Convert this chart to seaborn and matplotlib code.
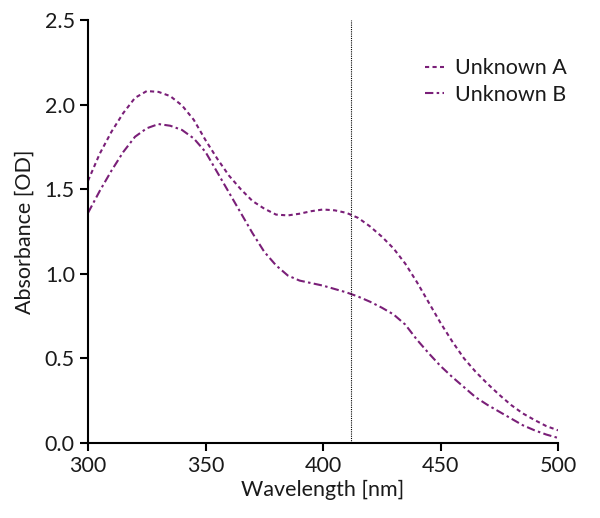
import pandas as pd
import matplotlib
matplotlib.use('Agg')
import matplotlib.pyplot as plt
import seaborn as sns

# absorbance spectra (5 nm steps)
wavelength = list(range(300, 505, 5))
unknown_a = [1.55, 1.71, 1.84, 1.95, 2.04, 2.08, 2.075, 2.05, 1.995, 1.91, 1.79,
             1.68, 1.58, 1.50, 1.43, 1.385, 1.35, 1.345, 1.355, 1.37, 1.38,
             1.375, 1.36, 1.33, 1.28, 1.22, 1.15, 1.06, 0.95, 0.83, 0.71,
             0.60, 0.50, 0.42, 0.35, 0.285, 0.225, 0.175, 0.136, 0.10, 0.075]
unknown_b = [1.36, 1.49, 1.61, 1.72, 1.81, 1.86, 1.885, 1.875, 1.85, 1.80, 1.72,
             1.60, 1.48, 1.36, 1.24, 1.13, 1.05, 0.99, 0.96, 0.945, 0.93,
             0.91, 0.89, 0.865, 0.835, 0.80, 0.76, 0.70, 0.61, 0.53, 0.455,
             0.39, 0.33, 0.27, 0.225, 0.185, 0.145, 0.105, 0.075, 0.05, 0.03]
marker_wl = 412

sns.set_style('ticks')
plt.rcParams['font.family'] = ['Lato', 'DejaVu Sans']

df = pd.DataFrame({'Wavelength': wavelength, 'Unknown A': unknown_a, 'Unknown B': unknown_b})
long = df.melt(id_vars='Wavelength', var_name='Sample', value_name='Absorbance')

purple = '#7a1f78'
txt = '#1a1a1a'
fig = plt.figure(figsize=(6, 5.18), dpi=100)
ax = fig.add_axes([0.1467, 0.1448, 0.7833, 0.8166])

sns.lineplot(data=long, x='Wavelength', y='Absorbance', hue='Sample',
             palette=[purple, purple], ax=ax, legend=False, lw=1.5)
ax.lines[0].set_dashes([2, 1.6])
ax.lines[1].set_dashes([4, 1.6, 1.2, 1.6])
ax.axvline(marker_wl, color='black', lw=0.8, ls=(0, (1, 1)))

ax.legend(ax.lines[:2], ['Unknown A', 'Unknown B'], loc='upper right', frameon=False,
          fontsize=15.5, handlelength=0.9, handletextpad=0.5, labelspacing=0.3,
          bbox_to_anchor=(1.06, 0.955), labelcolor=txt)

ax.set_xlim(300, 500)
ax.set_ylim(0, 2.5)
ax.set_xticks([300, 350, 400, 450, 500])
ax.set_yticks([0.0, 0.5, 1.0, 1.5, 2.0, 2.5])
ax.set_yticklabels(['0.0', '0.5', '1.0', '1.5', '2.0', '2.5'])
ax.tick_params(labelsize=15.5, width=1.5, length=6, color='black', labelcolor=txt)
for s in ['left', 'bottom']:
    ax.spines[s].set_linewidth(1.5)
    ax.spines[s].set_color('black')
sns.despine(ax=ax)
ax.set_xlabel('Wavelength [nm]', fontsize=15.5, color=txt, labelpad=3)
ax.set_ylabel('Absorbance [OD]', fontsize=15.5, color=txt, labelpad=7)

fig.savefig('out.png', dpi=100)
